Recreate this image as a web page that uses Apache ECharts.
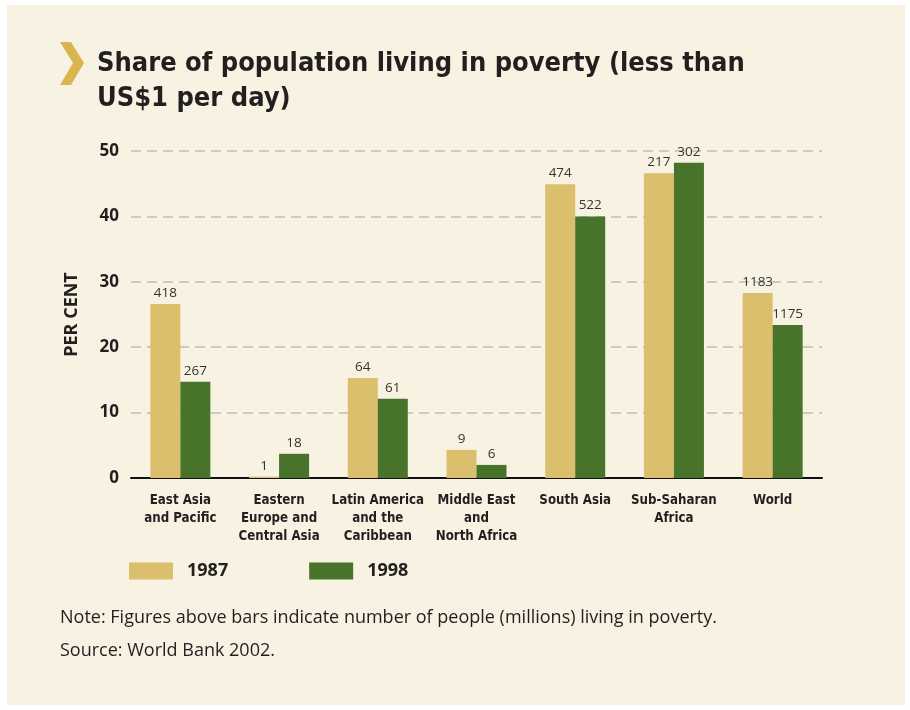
<!DOCTYPE html>
<html>
<head>
<meta charset="utf-8">
<script src="https://cdn.jsdelivr.net/npm/echarts@6/dist/echarts.min.js"></script>
<style>
html,body{margin:0;padding:0;background:#ffffff;}
#c{width:910px;height:710px;}
</style>
</head>
<body>
<div id="c"></div>
<script>
var categories = ["East Asia\nand Pacific", "Eastern\nEurope and\nCentral Asia", "Latin America\nand the\nCaribbean", "Middle East\nand\nNorth Africa", "South Asia", "Sub-Saharan\nAfrica", "World"];
var share1987 = [26.6, 0.2, 15.3, 4.3, 44.9, 46.6, 28.3];
var share1998 = [14.7, 3.7, 12.1, 2.0, 40.0, 48.2, 23.4];
var people1987 = [418, 1, 64, 9, 474, 217, 1183];
var people1998 = [267, 18, 61, 6, 522, 302, 1175];
var yTicks = [0, 10, 20, 30, 40, 50];

var condensed = "'Liberation Sans Narrow', 'DejaVu Sans Condensed', sans-serif";
var body = "'Open Sans', 'Noto Sans', sans-serif";

var chart = echarts.init(document.getElementById('c'), null, {renderer: 'canvas'});

function mkSeries(name, vals, people, color) {
  return {
    name: name,
    type: 'bar',
    data: vals.map(function (v, i) { return {value: v, people: people[i]}; }),
    barWidth: '30.4%',
    barGap: '0%',
    itemStyle: {color: color},
    label: {
      show: true,
      position: 'top',
      distance: 4,
      formatter: function (p) { return p.data.people; },
      fontFamily: body,
      fontSize: 13.5,
      color: '#333333'
    }
  };
}

chart.setOption({
  backgroundColor: 'transparent',
  animation: false,
  graphic: [
    {type: 'rect', z: -10, shape: {x: 7, y: 5, width: 898, height: 700}, style: {fill: '#f7f2e1'}},
    {type: 'polygon', shape: {points: [[60, 42], [71, 42], [84, 63], [71, 85], [60, 85], [73, 63]]}, style: {fill: '#d9b550'}},
    {type: 'text', left: 97, top: 46, style: {text: 'Share of population living in poverty (less than\nUS$1 per day)', font: 'bold 27px ' + condensed, fill: '#231f20', lineHeight: 35}},
    {type: 'text', left: 60, top: 609, style: {text: 'Note: Figures above bars indicate number of people (millions) living in poverty.', font: '18px ' + body, fill: '#231f20'}},
    {type: 'text', left: 60, top: 642, style: {text: 'Source: World Bank 2002.', font: '18px ' + body, fill: '#231f20'}}
  ],
  legend: {
    left: 124,
    top: 557,
    itemWidth: 44,
    itemHeight: 17,
    itemGap: 81,
    icon: 'rect',
    textStyle: {fontFamily: body, fontWeight: 'bold', fontSize: 18, color: '#231f20', padding: [0, 0, 0, 9]},
    data: ['1987', '1998']
  },
  grid: {left: 131, right: 88, top: 151, bottom: 232, containLabel: false},
  xAxis: {
    type: 'category',
    data: categories,
    axisLine: {lineStyle: {color: '#111111', width: 2}},
    axisTick: {show: false},
    axisLabel: {interval: 0, margin: 14, fontFamily: condensed, fontWeight: 'bold', fontSize: 13.2, lineHeight: 18, color: '#231f20'}
  },
  yAxis: {
    type: 'value',
    min: 0,
    max: 50,
    interval: 10,
    name: 'PER CENT',
    nameLocation: 'middle',
    nameGap: 50,
    nameTextStyle: {fontFamily: body, fontWeight: 'bold', fontSize: 18, color: '#231f20'},
    axisLine: {show: false},
    axisTick: {show: false},
    axisLabel: {margin: 12, fontFamily: body, fontWeight: 'bold', fontSize: 17, color: '#231f20',
      formatter: function (v) { return yTicks.indexOf(v) >= 0 ? String(v) : ''; }},
    splitLine: {lineStyle: {color: '#bcbcbc', width: 1.5, type: [10, 6]}}
  },
  series: [
    mkSeries('1987', share1987, people1987, '#dcbf6d'),
    mkSeries('1998', share1998, people1998, '#48732a')
  ]
});
</script>
</body>
</html>
